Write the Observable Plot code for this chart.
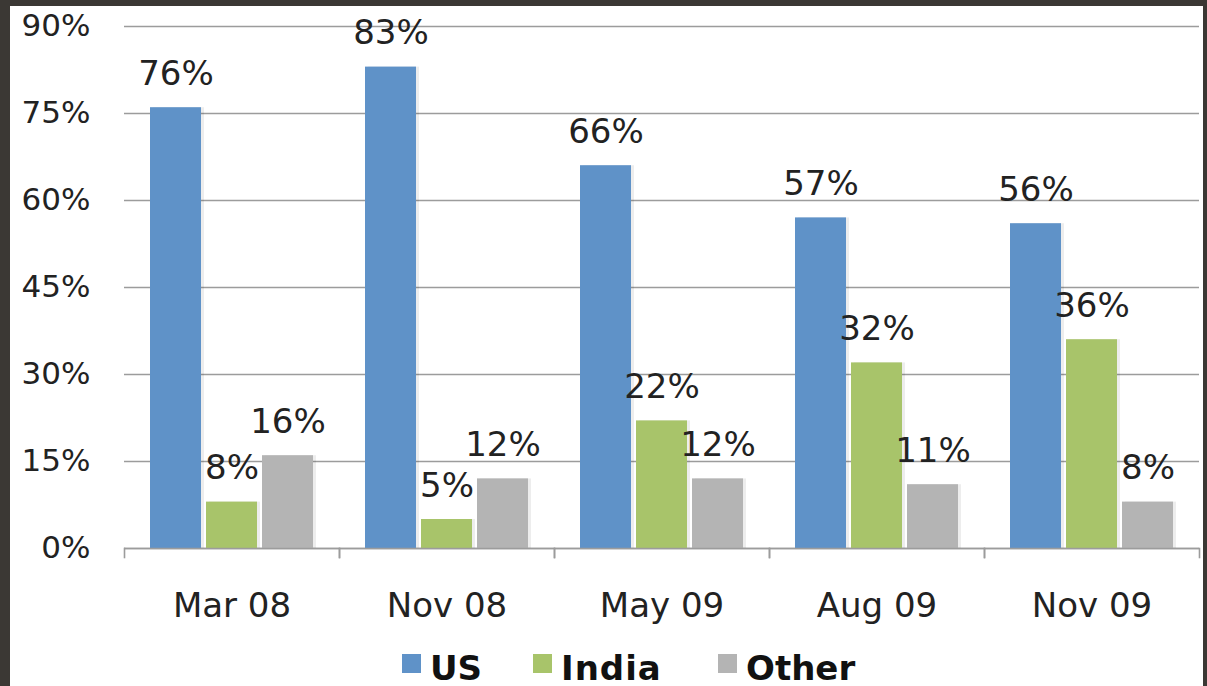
<!DOCTYPE html>
<html>
<head>
<meta charset="utf-8">
<script src="https://cdn.jsdelivr.net/npm/d3@7"></script>
<script src="https://cdn.jsdelivr.net/npm/@observablehq/plot@0.6"></script>
<style>
  html, body { margin: 0; padding: 0; }
  body { width: 1207px; height: 686px; background: #3b3834; position: relative; overflow: hidden; }
  #card { position: absolute; left: 10px; top: 6px; width: 1193px; height: 680px; background: #ffffff; }
  #legend { position: absolute; left: 392px; top: 645px; display: flex; align-items: center;
            font-family: "DejaVu Sans", sans-serif; font-weight: bold; font-size: 34px; line-height: 34px; color: #111; }
  .item { display: flex; align-items: center; }
  .item:nth-child(1) { width: 131px; }
  .item:nth-child(2) { width: 185px; letter-spacing: 1px; }
  .sw { display: inline-block; width: 19px; height: 19px; margin-right: 9px; position: relative; top: -5px; }
</style>
</head>
<body>
<div id="card">
  <div id="chart"></div>
  <div id="legend"></div>
</div>
<script>
const categories = ["Mar 08", "Nov 08", "May 09", "Aug 09", "Nov 09"];
const seriesNames = ["US", "India", "Other"];
const usValues = [76, 83, 66, 57, 56];
const indiaValues = [8, 5, 22, 32, 36];
const otherValues = [16, 12, 12, 11, 8];
const yTicks = [0, 15, 30, 45, 60, 75, 90];
const seriesColors = ["#5f92c8", "#a8c46a", "#b4b4b4"];

const seriesValues = [usValues, indiaValues, otherValues];
const data = categories.flatMap((c, i) =>
  seriesNames.map((s, j) => ({cat: c, series: s, value: seriesValues[j][i]}))
);

const W = 1193, H = 625, mT = 20, mB = 83;
const chart = Plot.plot({
  width: W,
  height: H,
  marginLeft: 112,
  marginRight: 3,
  marginTop: mT,
  marginBottom: mB,
  style: {fontFamily: "DejaVu Sans, sans-serif", color: "#222", background: "white", overflow: "visible"},
  fx: {domain: categories, padding: 0, label: null, axis: null},
  x: {domain: seriesNames, paddingInner: 0.09, paddingOuter: 0.44, axis: null},
  y: {domain: [0, 90], axis: null, label: null},
  color: {domain: seriesNames, range: seriesColors},
  marks: [
    Plot.gridY(yTicks, {stroke: "#9c9c9c", strokeOpacity: 1, strokeWidth: 1.6}),
    Plot.barY(data, {fx: "cat", x: "series", y: "value", fill: "#000", fillOpacity: 0.07, dx: 3}),
    Plot.barY(data, {fx: "cat", x: "series", y: "value", fill: "series"}),
    Plot.ruleY([0], {stroke: "#9c9c9c", strokeWidth: 1.6}),
    Plot.frame({anchor: "left", stroke: "#9c9c9c", strokeWidth: 1.6, insetTop: H - mT - mB, insetBottom: -9}),
    Plot.frame({anchor: "right", stroke: "#9c9c9c", strokeWidth: 1.6, insetTop: H - mT - mB, insetBottom: -9}),
    Plot.text(data, {fx: "cat", x: "series", y: "value", text: d => d.value + "%", dy: -23,
                     lineAnchor: "bottom", fontSize: 34, fill: "#222"}),
    Plot.axisY(yTicks, {anchor: "left", label: null, tickFormat: d => d + "%", tickSize: 0, tickPadding: 34, fontSize: 31, fill: "#222"}),
    Plot.axisFx({anchor: "bottom", tickSize: 0, tickPadding: 44, fontSize: 34, label: null, fill: "#222"})
  ]
});
document.getElementById("chart").appendChild(chart);

const legend = document.getElementById("legend");
seriesNames.forEach((s, j) => {
  const item = document.createElement("span");
  item.className = "item";
  const sw = document.createElement("span");
  sw.className = "sw";
  sw.style.background = seriesColors[j];
  const t = document.createElement("span");
  t.textContent = s;
  item.appendChild(sw);
  item.appendChild(t);
  legend.appendChild(item);
});
</script>
</body>
</html>
